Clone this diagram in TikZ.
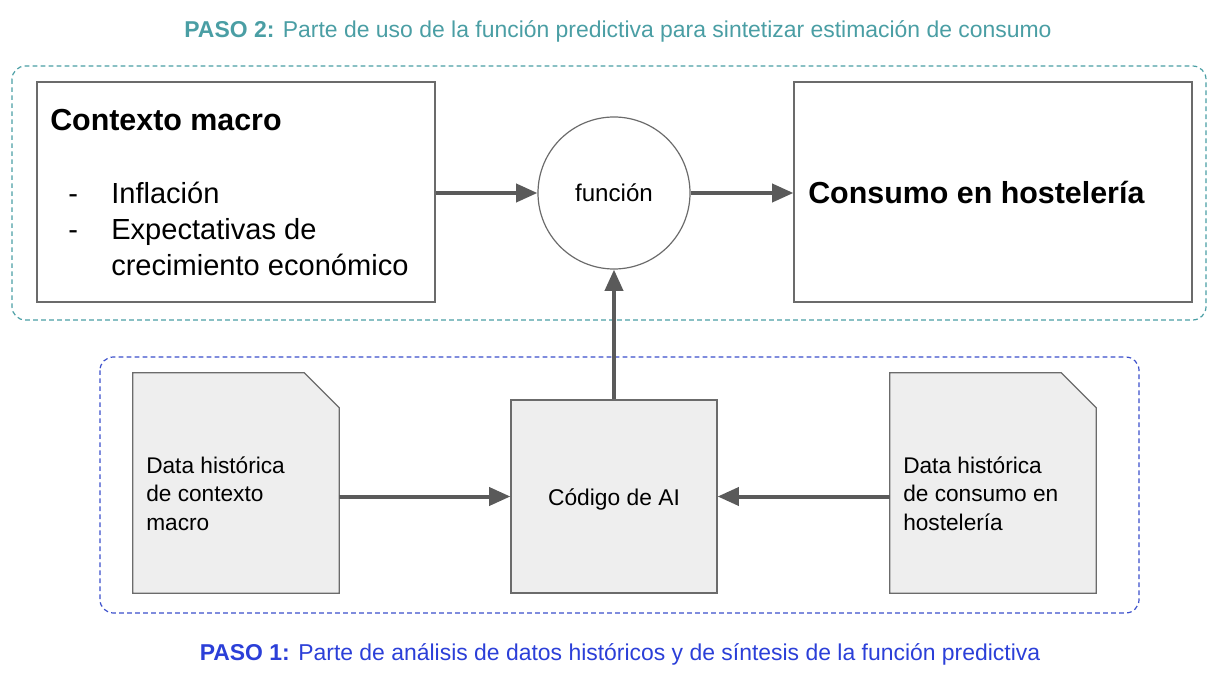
\documentclass[tikz,border=0pt]{standalone}
\usepackage{fontspec}
\setmainfont{Liberation Sans}
\usetikzlibrary{arrows.meta}
\definecolor{tealc}{HTML}{4A9EA4}
\definecolor{bluebox}{HTML}{3B4FCB}
\definecolor{bluetxt}{HTML}{2B3FD8}
\definecolor{arrc}{HTML}{5A5A5A}
\definecolor{edgec}{HTML}{6B6B6B}
\definecolor{docfill}{HTML}{EEEEEE}
\begin{document}
\begin{tikzpicture}[x=0.75pt,y=-0.75pt,
  bigbox/.style={draw=edgec,line width=0.9pt,minimum width=298.5pt,minimum height=165pt,inner sep=0pt},
  docnode/.style={minimum width=154.5pt,minimum height=165pt,inner sep=0pt},
  docshape/.style={draw=edgec,line width=0.9pt,fill=docfill},
  codebox/.style={draw=edgec,line width=0.9pt,fill=docfill,minimum width=154.5pt,minimum height=144.75pt,inner sep=0pt},
  func/.style={circle,draw=edgec,line width=0.9pt,minimum size=114pt,inner sep=0pt},
  flow/.style={draw=arrc,line width=3pt,-{Triangle[length=16pt,width=13.5pt]}},
  frame/.style={dash pattern=on 3.5pt off 2.5pt,line width=0.9pt,rounded corners=10pt},
  txt/.style={anchor=base west,inner sep=0pt},
  bigtitle/.style={font=\fontsize{22.8}{26}\selectfont\bfseries},
  listtxt/.style={font=\fontsize{21.8}{26}\selectfont},
  smalltxt/.style={font=\fontsize{17}{21.3}\selectfont},
  steptitle/.style={anchor=base,inner sep=0pt,font=\fontsize{17.2}{20}\selectfont}
]
\useasboundingbox (0,0) rectangle (1214,673);

% frames
\draw[frame,tealc] (12,66) rectangle (1206,320);
\draw[frame,bluebox] (100,357) rectangle (1139,613);

% titles
\node[steptitle,text=tealc] (t2) at (618,38) {\textbf{PASO 2:} Parte de uso de la función predictiva para sintetizar estimación de consumo};
\node[steptitle,text=bluetxt] (t1) at (620,660) {\textbf{PASO 1:} Parte de análisis de datos históricos y de síntesis de la función predictiva};

% top row
\node[bigbox] (ctx) at (236,192) {};
\node[txt,bigtitle] (ctxt) at (50,131) {Contexto macro};
\node[txt,listtxt] (b1) at (68,204) {-};
\node[txt,listtxt] (l1) at (111,204) {Inflación};
\node[txt,listtxt] (b2) at (68,240) {-};
\node[txt,listtxt] (l2) at (111,240) {Expectativas de};
\node[txt,listtxt] (l3) at (111,276) {crecimiento económico};

\node[func] (fn) at (614,193) {};
\node[anchor=base,inner sep=0pt,font=\fontsize{18.1}{22}\selectfont] (fnt) at (614,202) {función};

\node[bigbox] (cons) at (993,192) {};
\node[txt,bigtitle] (const) at (808,204) {Consumo en hostelería};

% bottom row
\node[docnode] (d1) at (236,483) {};
\draw[docshape] (d1.south west) -- (d1.north west) -- ([xshift=-26.25pt]d1.north east) -- ([yshift=-26.25pt]d1.north east) -- (d1.south east) -- cycle;
\node[txt,smalltxt,align=left] (d1t) at (146,530) {Data histórica\\de contexto\\macro};

\node[codebox] (code) at (614,496.5) {};
\node[anchor=base,inner sep=0pt,font=\fontsize{17.1}{21}\selectfont] (codet) at (614,505) {Código de AI};

\node[docnode] (d2) at (993,483) {};
\draw[docshape] (d2.south west) -- (d2.north west) -- ([xshift=-26.25pt]d2.north east) -- ([yshift=-26.25pt]d2.north east) -- (d2.south east) -- cycle;
\node[txt,smalltxt,align=left] (d2t) at (903,530) {Data histórica\\de consumo en\\hostelería};

% connectors
\draw[flow] (ctx.east |- fn.west) -- (fn.west);
\draw[flow] (fn.east) -- (cons.west |- fn.east);
\draw[flow] (code.north) -- (fn.south);
\draw[flow] (d1.east |- code.west) -- (code.west);
\draw[flow] (d2.west |- code.east) -- (code.east);
\end{tikzpicture}
\end{document}
